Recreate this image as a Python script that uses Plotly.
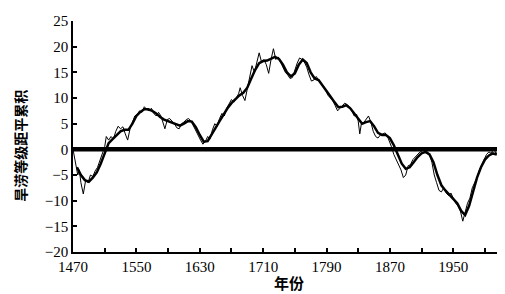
import plotly.graph_objects as go

# Annual-ish cumulative anomaly (thin, jagged line)
rough_years = [1470, 1473, 1476, 1478, 1480, 1483, 1486, 1489, 1492, 1495, 1498, 1501, 1504, 1507,
               1510, 1512, 1515, 1518, 1521, 1524, 1527, 1530, 1533, 1536, 1539, 1542, 1545, 1548,
               1551, 1554, 1557, 1560, 1563, 1566, 1569, 1572, 1575, 1578, 1581, 1584, 1586, 1589,
               1592, 1595, 1598, 1601, 1604, 1607, 1610, 1613, 1616, 1619, 1622, 1625, 1628, 1631,
               1634, 1637, 1640, 1643, 1646, 1649, 1652, 1655, 1658, 1661, 1664, 1667, 1670, 1673,
               1676, 1679, 1681, 1684, 1687, 1690, 1693, 1696, 1699, 1702, 1705, 1708, 1711, 1714,
               1717, 1720, 1723, 1726, 1729, 1732, 1735, 1738, 1741, 1744, 1747, 1750, 1753, 1756,
               1759, 1762, 1765, 1768, 1771, 1774, 1777, 1780, 1783, 1786, 1789, 1792, 1795, 1798,
               1801, 1804, 1807, 1810, 1813, 1816, 1819, 1822, 1825, 1828, 1830, 1832, 1834, 1837,
               1840, 1843, 1846, 1849, 1852, 1855, 1858, 1861, 1864, 1867, 1870, 1872, 1875, 1878,
               1881, 1884, 1887, 1890, 1893, 1896, 1899, 1902, 1905, 1908, 1911, 1914, 1917, 1920,
               1923, 1926, 1929, 1932, 1935, 1938, 1941, 1944, 1947, 1950, 1953, 1956, 1959, 1962,
               1965, 1968, 1971, 1974, 1977, 1980, 1983, 1986, 1989, 1992, 1995, 1998, 2001, 2004,
               2006]
rough_values = [0.0, -2.5, -5.0, -4.0, -6.5, -8.7, -6.0, -6.5, -5.0, -5.3, -4.2, -3.5, -2.0, -1.0,
                0.5, 2.5, 1.8, 2.5, 2.0, 3.5, 4.5, 4.0, 4.4, 3.0, 1.8, 4.0, 5.5, 6.5,
                6.8, 7.5, 7.2, 8.3, 7.8, 7.5, 8.0, 7.0, 6.5, 7.2, 6.5, 5.0, 4.0, 5.8,
                6.0, 5.5, 5.0, 4.2, 4.0, 5.0, 5.3, 5.8, 6.0, 5.5, 4.5, 3.5, 2.5, 1.8,
                1.0, 1.5, 2.5, 2.0, 3.8, 5.0, 4.5, 6.0, 7.0, 6.5, 8.0, 9.0, 9.7, 9.2,
                10.0, 10.8, 12.0, 10.5, 9.5, 12.0, 14.0, 16.3, 15.0, 17.0, 18.8, 17.0, 17.5, 16.5,
                14.8, 17.5, 19.6, 17.5, 18.0, 17.0, 16.0, 15.0, 14.5, 13.8, 14.0, 15.5, 16.8, 17.8,
                17.5, 17.0, 16.0, 14.5, 13.3, 13.5, 14.2, 13.5, 12.8, 12.0, 11.5, 10.5, 10.0, 9.5,
                8.5, 7.5, 8.0, 8.5, 9.0, 8.7, 8.3, 7.5, 6.5, 6.8, 5.5, 3.0, 5.0, 5.2,
                5.8, 6.5, 5.3, 3.5, 2.5, 2.2, 2.8, 3.0, 3.2, 2.5, 1.5, 0.5, -1.0, -2.0,
                -3.0, -4.0, -5.5, -5.0, -3.2, -3.0, -2.0, -1.5, -1.0, -0.5, -0.3, 0.2, -0.5, -1.0,
                -2.5, -5.0, -6.5, -8.0, -8.3, -7.5, -8.5, -9.0, -8.5, -9.5, -10.5, -11.0, -12.0, -14.0,
                -12.0, -10.5, -9.5, -7.5, -6.5, -5.5, -4.0, -3.0, -2.0, -1.0, -0.5, -0.8, 0.2, -0.8,
                -0.5]

# Smoothed cumulative anomaly (thick line)
smooth_years = list(range(1475, 2006, 5))
smooth_values = [-3.5, -5.0, -6.0, -6.3, -5.5, -4.5, -2.8, -0.8, 1.2, 2.0, 2.8, 3.5, 3.8, 3.8,
                 5.0, 6.5, 7.3, 7.8, 7.8, 7.5, 7.0, 6.3, 5.8, 5.5, 5.2, 4.8, 4.6, 5.0,
                 5.5, 5.4, 4.3, 2.8, 1.5, 1.6, 2.8, 4.2, 5.5, 6.8, 8.0, 9.0, 9.8, 10.5,
                 11.0, 12.0, 13.8, 15.5, 16.8, 17.2, 17.3, 17.6, 18.0, 17.6, 16.5, 15.0, 14.2, 14.8,
                 16.5, 17.5, 16.8, 15.0, 13.8, 13.5, 12.5, 11.5, 10.3, 9.2, 8.2, 8.3, 8.6, 8.0,
                 7.0, 5.8, 5.0, 5.3, 5.5, 4.5, 3.2, 2.8, 2.8, 2.2, 0.8, -1.0, -2.8, -3.8,
                 -3.5, -2.5, -1.5, -0.8, -0.5, -1.0, -2.5, -5.0, -7.0, -8.0, -8.8, -9.5, -10.5, -12.0,
                 -12.8, -11.0, -8.0, -5.5, -3.5, -2.0, -1.2, -0.8, -1.0]

zero_years = [1470, 2008]
zero_values = [0, 0]

x_tickvals = list(range(1470, 2000, 40))
x_ticktext = [str(v) if (v - 1470) % 80 == 0 else "" for v in x_tickvals]
y_tickvals = list(range(-20, 26, 5))

fig = go.Figure()
fig.add_trace(go.Scatter(x=zero_years, y=zero_values, mode="lines",
                         line=dict(color="black", width=4.5), hoverinfo="skip"))
fig.add_trace(go.Scatter(x=rough_years, y=rough_values, mode="lines",
                         line=dict(color="black", width=1)))
fig.add_trace(go.Scatter(x=smooth_years, y=smooth_values, mode="lines",
                         line=dict(color="black", width=2.5)))

num_font = dict(family="Liberation Serif", size=15, color="black")
cjk_font = dict(family="Noto Sans CJK SC", size=14, color="black")

fig.update_layout(
    width=497, height=286,
    margin=dict(l=65, r=5, t=9, b=42),
    paper_bgcolor="white", plot_bgcolor="white",
    showlegend=False,
    xaxis=dict(range=[1470, 2009], tickvals=x_tickvals, ticktext=x_ticktext,
               ticks="inside", ticklen=4, tickcolor="black", tickwidth=1.5,
               showline=True, linecolor="black", linewidth=1.5,
               showgrid=False, zeroline=False, tickfont=num_font),
    yaxis=dict(range=[-20, 25], tickvals=y_tickvals,
               ticks="inside", ticklen=4, tickcolor="black", tickwidth=1.5,
               showline=True, linecolor="black", linewidth=1.5,
               showgrid=False, zeroline=False, tickfont=num_font),
    annotations=[
        dict(text="<b>旱涝等级距平累积</b>", xref="paper", yref="paper",
             x=-0.124, y=0.46, textangle=-90, showarrow=False,
             xanchor="center", yanchor="middle", font=cjk_font),
        dict(text="<b>年份</b>", xref="paper", yref="paper",
             x=0.505, y=-0.132, showarrow=False,
             xanchor="center", yanchor="middle",
             font=dict(family="Noto Sans CJK SC", size=15, color="black")),
    ],
)

fig.write_html("out.html")
